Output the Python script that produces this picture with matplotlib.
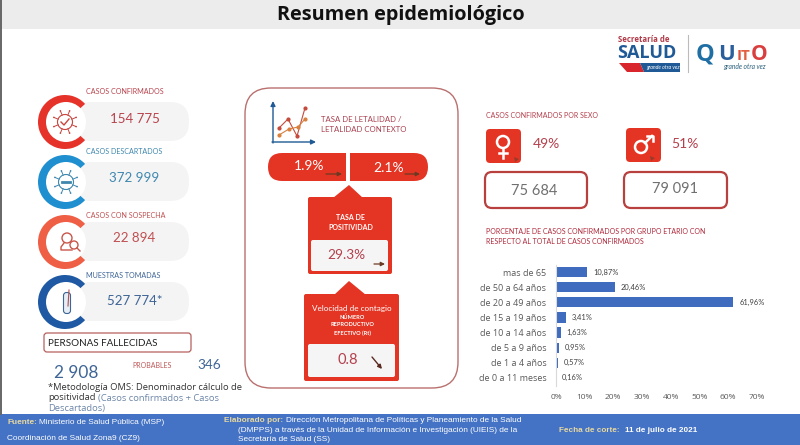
import numpy as np
import matplotlib
matplotlib.use("Agg")
import matplotlib.pyplot as plt
from matplotlib.patches import Circle, FancyBboxPatch, Polygon, Rectangle, Wedge

# ── Data ────────────────────────────────────────────────
age_groups = ["mas de 65", "de 50 a 64 años", "de 20 a 49 años", "de 15 a 19 años",
              "de 10 a 14 años", "de 5 a 9 años", "de 1 a 4 años", "de 0 a 11 meses"]
age_values = [10.87, 20.46, 61.96, 3.41, 1.63, 0.95, 0.57, 0.16]
age_labels = ["10,87%", "20,46%", "61,96%", "3,41%", "1,63%", "0,95%", "0,57%", "0,16%"]
x_ticks = [0, 10, 20, 30, 40, 50, 60, 70]

card_titles = ["CASOS CONFIRMADOS", "CASOS DESCARTADOS", "CASOS CON SOSPECHA", "MUESTRAS TOMADAS"]
card_values = ["154 775", "372 999", "22 894", "527 774*"]

# ── Colours ─────────────────────────────────────────────
RED = "#E43524"
TXT_RED = "#B4404C"
BAR = "#3F6CBE"
FOOT = "#4472C4"
card_rings = ["#E5332A", "#1F8FCF", "#EE5F45", "#1F59A3"]
card_text = ["#B8434C", "#3F87AE", "#BF4F50", "#3E6596"]
card_y = [122, 182, 242, 302]
card_title_y = [92, 151, 215, 276]
card_value_y = [119, 178, 238, 301]

plt.rcParams["font.family"] = ["Lato", "DejaVu Sans"]
fig = plt.figure(figsize=(8, 4.45), dpi=100)
ax = fig.add_axes([0, 0, 1, 1])
ax.set_xlim(0, 800)
ax.set_ylim(445, 0)
ax.axis("off")


def rbox(x0, y0, x1, y1, r, fc, ec="none", lw=0, z=2):
    p = FancyBboxPatch((x0 + r, y0 + r), x1 - x0 - 2 * r, y1 - y0 - 2 * r,
                       boxstyle=f"round,pad={r},rounding_size={r}",
                       fc=fc, ec=ec, lw=lw, zorder=z)
    ax.add_patch(p)


def arrow(x0, y0, x1, y1, col="#6B3A22", lw=0.9, ms=6):
    ax.annotate("", xy=(x1, y1), xytext=(x0, y0), zorder=8,
                arrowprops=dict(arrowstyle="-|>", color=col, lw=lw, mutation_scale=ms,
                                shrinkA=0, shrinkB=0))


def virus(cx, cy, col):
    ax.add_patch(Circle((cx, cy), 7.5, fc="none", ec=col, lw=0.8, zorder=6))
    for a in np.arange(0, 360, 45) + 22.5:
        c, s = np.cos(np.radians(a)), np.sin(np.radians(a))
        ax.plot([cx + 7.5 * c, cx + 12 * c], [cy + 7.5 * s, cy + 12 * s], color=col, lw=0.7, zorder=6)
        ax.add_patch(Circle((cx + 12 * c, cy + 12 * s), 0.8, fc=col, ec="none", zorder=6))


# ── Header ──────────────────────────────────────────────
ax.add_patch(Rectangle((0, 0), 800, 29, fc="#ECECEC", ec="none", zorder=1))
ax.text(401, 15, "Resumen epidemiológico", ha="center", va="center", fontsize=14.3,
        fontweight="bold", color="#111111", family="Open Sans", zorder=3)
ax.plot([0.7, 0.7], [0, 414], color="#666666", lw=1.4, zorder=3)

# ── Logos ───────────────────────────────────────────────
ax.text(618, 40, "Secretaría de", fontsize=5.6, fontweight="bold", color="#B03A48", va="center", family="Open Sans")
ax.text(617, 52.5, "SALUD", fontsize=13, fontweight="bold", color="#1F5A96", va="center", family="Open Sans")
ax.add_patch(Polygon([(619, 63), (640, 63), (644, 72), (627, 72)], fc="#D8262C", ec="none"))
ax.add_patch(Polygon([(640, 63), (680, 63), (680, 72), (644, 72)], fc="#1F5A96", ec="none"))
ax.text(663, 67.5, "grande otra vez", fontsize=3.8, style="italic", color="white", ha="center", va="center")
ax.plot([688, 688], [35, 72], color="#BBBBBB", lw=0.8)
for letter, lx, col, lfs in zip("QUITO", [705, 726, 739, 745.5, 759],
                                ["#1F6FA5", "#2A5F9C", "#E0503F", "#E0603F", "#D93F3F"],
                                [17, 16, 11, 11, 15]):
    ax.text(lx, 60, letter, fontsize=lfs, fontweight="bold", color=col, ha="center", va="baseline",
            family="Open Sans")
ax.text(744, 67, "grande otra vez", fontsize=4.8, style="italic", color="#2A5F7C", ha="center", va="center")

# ── Left cards ──────────────────────────────────────────
for title, val, ring, tc, cy, ty, vy in zip(card_titles, card_values, card_rings, card_text,
                                            card_y, card_title_y, card_value_y):
    rbox(72, cy - 20, 189, cy + 19, 19, "#F4F4F5", z=2)
    ax.add_patch(Wedge((65, cy), 27, 42, 318, fc=ring, ec="none", zorder=3))
    ax.add_patch(Circle((66, cy), 20, fc="white", ec="none", zorder=4))
    ax.text(86, ty, title, fontsize=5.1, color=tc, va="center", zorder=5)
    ax.text(134.5, vy, val, fontsize=9.6, color=tc, ha="center", va="center", zorder=5)

virus(65, 122, "#C9463F")
ax.plot([61, 64, 69], [122, 125, 119], color="#C9463F", lw=1.0, zorder=6)
virus(66, 182, "#3F87AE")
ax.plot([62, 70], [182, 182], color="#3F87AE", lw=2, zorder=6)
# person with magnifier
ax.add_patch(Circle((67, 238), 5, fc="none", ec="#C9564A", lw=1, zorder=6))
ax.plot([64, 61, 61, 72], [243, 247, 250, 250], color="#C9564A", lw=1, zorder=6)
ax.add_patch(Circle((74, 245), 4, fc="white", ec="#C9564A", lw=1, zorder=6))
ax.plot([77, 80], [248, 251], color="#C9564A", lw=1, zorder=6)
# test tube
ax.add_patch(FancyBboxPatch((64, 293), 6, 20, boxstyle="round,pad=0.5,rounding_size=3",
                            fc="#E6EDF4", ec="#3E6596", lw=0.8, zorder=6))
ax.plot([69, 68], [290, 306], color="#B05050", lw=0.8, zorder=7)

# ── Deaths block ────────────────────────────────────────
rbox(44, 333, 191, 352, 3, "white", ec="#B5605C", lw=0.9)
ax.text(48, 344, "PERSONAS FALLECIDAS", fontsize=7.1, color="#222222", va="center", zorder=5)
ax.text(132, 365, "PROBABLES", fontsize=5.05, color="#BF5A5A", va="center")
ax.text(197, 365, "346", fontsize=9.8, color="#3E6596", va="center")
ax.text(54, 373, "2 908", fontsize=12.4, color="#3E6596", va="center")
ax.text(48, 387, "*Metodología OMS: Denominador cálculo de", fontsize=6.75, color="#333333",
        va="center", family="Open Sans")
ax.text(48, 398, "positividad", fontsize=6.75, color="#333333", va="center", family="Open Sans")
ax.text(98, 398, "(Casos confirmados + Casos", fontsize=6.75, color="#6D86A8", va="center", family="Open Sans")
ax.text(48, 409, "Descartados)", fontsize=6.75, color="#6D86A8", va="center", family="Open Sans")

# ── Centre panel ────────────────────────────────────────
rbox(245, 88, 458, 388, 26, "white", ec="#B9706E", lw=1.0, z=1)
arrow(273, 143, 273, 101, col="#1F5A96", lw=1, ms=7)
arrow(272, 142, 316, 142, col="#1F5A96", lw=1, ms=7)
ax.plot([279, 288, 297, 305], [128, 119, 136, 108], "-o", color="#C44B3C", lw=0.8, ms=2)
ax.plot([279, 289, 298, 305], [135, 129, 127, 119], "-o", color="#D9803F", lw=0.8, ms=2)
ax.text(321, 119, "TASA DE LETALIDAD /", fontsize=5.6, color="#A8404F", va="center")
ax.text(321, 129.5, "LETALIDAD CONTEXTO", fontsize=5.6, color="#A8404F", va="center")

rbox(268, 153, 428, 181, 14, RED)
ax.add_patch(Rectangle((346, 150), 4, 34, fc="white", ec="none", zorder=3))
ax.text(309, 166, "1.9%", fontsize=10, color="white", ha="center", va="center", zorder=4)
ax.text(389, 168, "2.1%", fontsize=10, color="white", ha="center", va="center", zorder=4)
arrow(326, 174, 342, 174)
arrow(405, 174, 420, 174)

# positividad box
rbox(308, 197, 392, 274, 2, RED)
ax.add_patch(Polygon([(333, 198), (349, 185), (363, 198)], fc=RED, ec="none", zorder=2))
ax.text(350, 217, "TASA DE", fontsize=5.0, fontweight="bold", color="white", ha="center", va="center", zorder=4)
ax.text(351, 227, "POSITIVIDAD", fontsize=5.0, fontweight="bold", color="white", ha="center", va="center", zorder=4)
rbox(311, 240, 388, 271, 2, "#F5F5F6", z=3)
ax.text(346.5, 255, "29.3%", fontsize=9.8, color=TXT_RED, ha="center", va="center", zorder=4)
arrow(374, 264, 385, 264)

# velocidad box
rbox(304, 294, 399, 381, 2, RED)
ax.add_patch(Polygon([(334, 295), (349, 281), (366, 295)], fc=RED, ec="none", zorder=2))
ax.text(351.5, 308, "Velocidad de contagio", fontsize=5.9, color="white", ha="center", va="center", zorder=4)
ax.text(352, 317, "NÚMERO", fontsize=4.1, fontweight="bold", color="white", ha="center", va="center", zorder=4)
ax.text(352, 325, "REPRODUCTIVO", fontsize=4.1, fontweight="bold", color="white", ha="center", va="center", zorder=4)
ax.text(352, 333, "EFECTIVO (Rt)", fontsize=4.1, fontweight="bold", color="white", ha="center", va="center", zorder=4)
rbox(308, 344, 395, 377, 2, "#F5F5F6", z=3)
ax.text(347.5, 360, "0.8", fontsize=10.5, color=TXT_RED, ha="center", va="center", zorder=4)
arrow(372, 357, 382, 369, col="#5A2A20", lw=1.0)

# ── Sex block ───────────────────────────────────────────
ax.text(486, 116, "CASOS CONFIRMADOS POR SEXO", fontsize=5.05, color=TXT_RED, va="center")
rbox(486, 129, 521, 163, 4, RED)
rbox(626, 128, 661, 162, 4, RED)
ax.add_patch(Circle((503, 142), 6, fc="none", ec="white", lw=1.8, zorder=4))
ax.plot([503, 503], [148, 158], color="white", lw=1.8, zorder=4)
ax.plot([499, 507], [153, 153], color="white", lw=1.8, zorder=4)
ax.add_patch(Circle((641, 147), 6, fc="none", ec="white", lw=1.8, zorder=4))
ax.plot([645, 652], [143, 136], color="white", lw=1.8, zorder=4)
ax.plot([647, 653, 653], [135.5, 135.5, 141], color="white", lw=1.8, zorder=4)
ax.add_patch(Polygon([(514, 157), (519, 159), (515, 162)], fc="#9A3A2A", ec="none", zorder=4))
ax.add_patch(Polygon([(650, 156), (655, 158), (651, 161)], fc="#9A3A2A", ec="none", zorder=4))
ax.text(546, 144, "49%", fontsize=10, color=TXT_RED, ha="center", va="center")
ax.text(684.5, 144, "51%", fontsize=10, color=TXT_RED, ha="center", va="center")
rbox(485, 172, 587, 208, 7, "white", ec="#B8403F", lw=1.6)
rbox(624, 172, 727, 208, 7, "white", ec="#B8403F", lw=1.6)
ax.text(534.5, 191, "75 684", fontsize=10.5, color="#707070", ha="center", va="center", zorder=4)
ax.text(675, 189, "79 091", fontsize=10.5, color="#707070", ha="center", va="center", zorder=4)

# ── Age chart ───────────────────────────────────────────
ax.text(486.5, 232, "PORCENTAJE DE CASOS CONFIRMADOS POR GRUPO ETARIO CON", fontsize=5.05, color="#B02A3C", va="center")
ax.text(486.5, 242, "RESPECTO AL TOTAL DE CASOS CONFIRMADOS", fontsize=5.05, color="#B02A3C", va="center")

bar_ax = fig.add_axes([556 / 800, 1 - 385.5 / 445, 200.5 / 800, 121 / 445])
y_pos = np.arange(len(age_groups))
bar_ax.barh(y_pos, age_values, height=0.68, color=BAR)
bar_ax.set_ylim(len(age_groups) - 0.5, -0.5)
bar_ax.set_xlim(0, 70)
bar_ax.set_yticks(y_pos, age_groups)
bar_ax.set_xticks(x_ticks, [f"{t}%" for t in x_ticks])
bar_ax.tick_params(length=0)
bar_ax.tick_params(axis="y", labelsize=6.5, labelcolor="#595959", pad=7)
bar_ax.tick_params(axis="x", labelsize=6.0, labelcolor="#595959", pad=6)
for s in ["top", "right", "bottom"]:
    bar_ax.spines[s].set_visible(False)
bar_ax.spines["left"].set_color("#D9D9D9")
bar_ax.patch.set_alpha(0)
for y, v, lab in zip(y_pos, age_values, age_labels):
    bar_ax.text(v + 2, y, lab, fontsize=5.4, color="#404040", va="center")
for lab in bar_ax.get_yticklabels() + bar_ax.get_xticklabels():
    lab.set_family("Open Sans")

# ── Footer ──────────────────────────────────────────────
F = ["Liberation Sans", "DejaVu Sans"]
ax.add_patch(Rectangle((0, 414), 800, 31, fc=FOOT, ec="none", zorder=1))
fs = 5.95
ax.text(7, 422, "Fuente:", fontsize=fs, color="#E8D9A0", va="center", family=F, fontweight="bold", zorder=3)
ax.text(39, 422, "Ministerio de Salud Pública (MSP)", fontsize=fs, color="white", va="center", family=F, zorder=3)
ax.text(7, 439, "Coordinación de Salud Zona9 (CZ9)", fontsize=fs, color="white", va="center", family=F, zorder=3)
ax.text(224, 421, "Elaborado por:", fontsize=fs, color="#E8D9A0", va="center", family=F, fontweight="bold", zorder=3)
ax.text(286, 421, "Dirección Metropolitana de Políticas y Planeamiento de la Salud", fontsize=fs, color="white", va="center", family=F, zorder=3)
ax.text(238, 430.5, "(DMPPS) a través de la Unidad de Información e Investigación (UIEIS) de la", fontsize=fs, color="white", va="center", family=F, zorder=3)
ax.text(238, 439.5, "Secretaría de Salud (SS)", fontsize=fs, color="white", va="center", family=F, zorder=3)
ax.text(559, 431, "Fecha de corte:", fontsize=5.9, color="#E8D9A0", va="center", family=F, fontweight="bold", zorder=3)
ax.text(625, 431, "11 de julio de 2021", fontsize=5.9, color="white", va="center", family=F, fontweight="bold", zorder=3)

fig.savefig("out.png", dpi=100)
